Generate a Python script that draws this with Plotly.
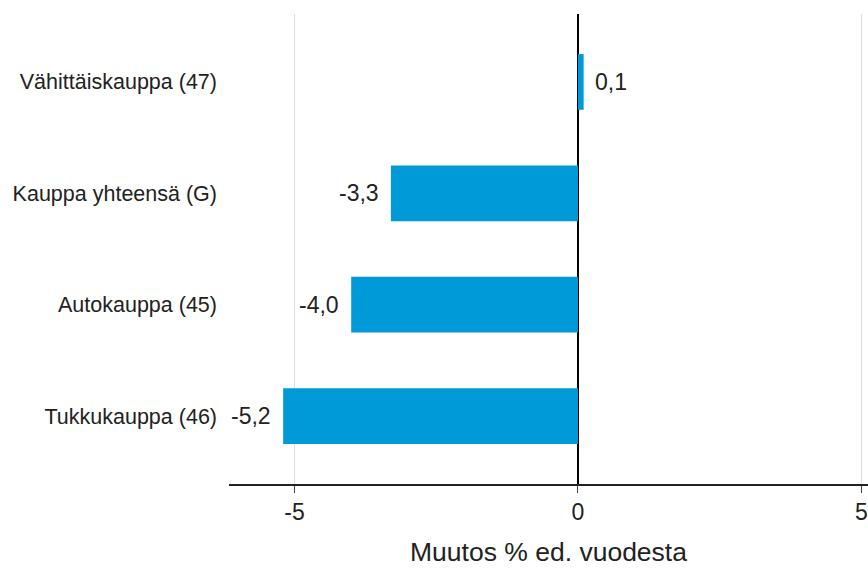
import plotly.graph_objects as go

categories = ["Vähittäiskauppa (47)", "Kauppa yhteensä (G)", "Autokauppa (45)", "Tukkukauppa (46)"]
values = [0.1, -3.3, -4.0, -5.2]
tick_vals = [-5, 0, 5]
tick_text = ["-5", "0", "5"]
axis_title = "Muutos % ed. vuodesta"

labels = [f"{v:.1f}".replace(".", ",") for v in values]

FONT = "Liberation Sans, Arial, sans-serif"

fig = go.Figure()
fig.add_trace(go.Bar(
    y=categories,
    x=values,
    orientation="h",
    marker=dict(color="#009ad8", line=dict(width=0)),
    width=0.5,
    hoverinfo="skip",
))

for cat, v, lab in zip(categories, values, labels):
    fig.add_annotation(
        x=v, y=cat, xref="x", yref="y",
        text=lab, showarrow=False,
        xanchor="left" if v >= 0 else "right",
        xshift=9 if v >= 0 else -10,
        font=dict(family=FONT, size=23, color="#222222"),
    )

fig.update_layout(
    width=868,
    height=569,
    margin=dict(l=229, r=0, t=14, b=85),
    paper_bgcolor="white",
    plot_bgcolor="white",
    showlegend=False,
    font=dict(family=FONT, color="#222222"),
    xaxis=dict(
        range=[-6.155, 5.115],
        tickvals=tick_vals,
        ticktext=tick_text,
        tickfont=dict(size=23, color="#222222"),
        ticklabeloverflow="allow",
        ticks="outside",
        ticklen=7,
        tickcolor="#444444",
        showgrid=True,
        gridcolor="#dddddd",
        gridwidth=1,
        zeroline=True,
        zerolinecolor="#000000",
        zerolinewidth=1.5,
        showline=True,
        linecolor="#222222",
        linewidth=1.5,
        title=dict(text=axis_title, font=dict(size=26.5, color="#222222"), standoff=18),
        automargin=False,
        fixedrange=True,
    ),
    yaxis=dict(
        categoryorder="array",
        categoryarray=list(reversed(categories)),
        range=[-0.61, 3.61],
        tickfont=dict(size=21.5, color="#222222"),
        showgrid=False,
        zeroline=False,
        showline=False,
        ticks="",
        ticklabelstandoff=11,
        automargin=False,
        fixedrange=True,
    ),
)

fig.write_html(
    "out.html",
    config={"displayModeBar": False},
    post_script="document.body.style.margin='0';document.body.style.overflow='hidden';",
)
